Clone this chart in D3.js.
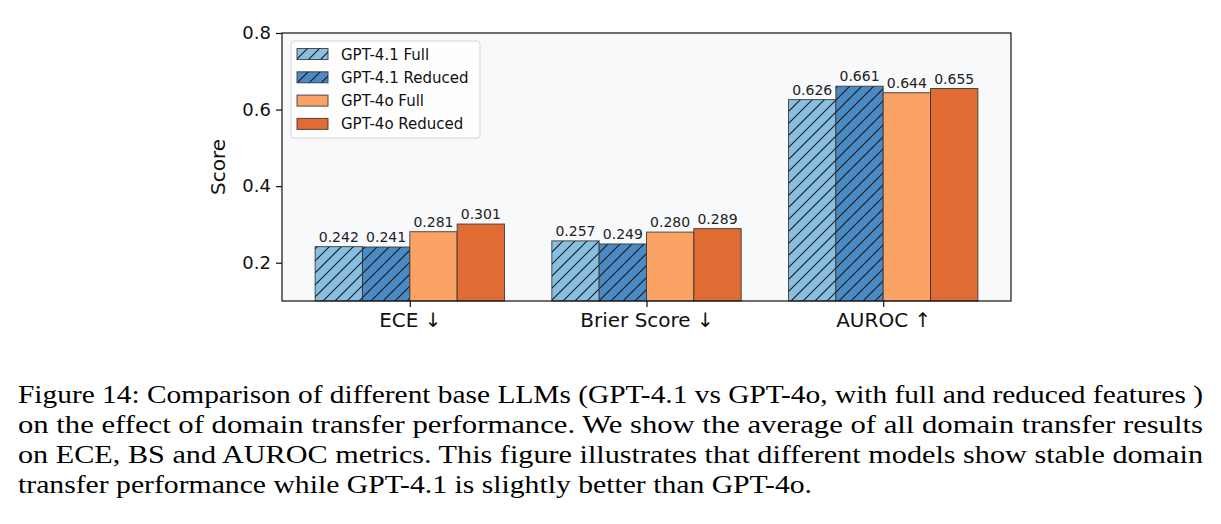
<!DOCTYPE html>
<html>
<head>
<meta charset="utf-8">
<script src="https://cdn.jsdelivr.net/npm/d3@7"></script>
<style>
  body { margin: 0; background: #ffffff; }
  svg { display: block; }
</style>
</head>
<body>
<div id="chartdiv"></div>
<script>
// metric groups on the x axis
var metrics = ["ECE \u2193", "Brier Score \u2193", "AUROC \u2191"];
// one series per model / feature setting
var seriesNames = ["GPT-4.1 Full", "GPT-4.1 Reduced", "GPT-4o Full", "GPT-4o Reduced"];
var gpt41Full = [0.242, 0.257, 0.626];
var gpt41Reduced = [0.241, 0.249, 0.661];
var gpt4oFull = [0.281, 0.280, 0.644];
var gpt4oReduced = [0.301, 0.289, 0.655];
var yTicks = [0.2, 0.4, 0.6, 0.8];

var captionLines = [
  "Figure 14: Comparison of different base LLMs (GPT-4.1 vs GPT-4o, with full and reduced features )",
  "on the effect of domain transfer performance. We show the average of all domain transfer results",
  "on ECE, BS and AUROC metrics. This figure illustrates that different models show stable domain",
  "transfer performance while GPT-4.1 is slightly better than GPT-4o."
];

var allSeries = [gpt41Full, gpt41Reduced, gpt4oFull, gpt4oReduced];
var fillColors = ["#88bfe0", "#4a8ac5", "#fba365", "#e06c33"];
var hatched = [true, true, false, false];

var width = 1221, height = 524;
var plotLeft = 282, plotRight = 1011, plotTop = 33, plotBottom = 301;

var svg = d3.select("#chartdiv").append("svg")
  .attr("width", width)
  .attr("height", height);

// hatch pattern like matplotlib '//'
var defs = svg.append("defs");
fillColors.forEach(function(c, i) {
  if (!hatched[i]) return;
  var pat = defs.append("pattern")
    .attr("id", "hatch" + i)
    .attr("patternUnits", "userSpaceOnUse")
    .attr("width", 12)
    .attr("height", 12);
  pat.append("rect").attr("width", 12).attr("height", 12).attr("fill", c);
  pat.append("path")
    .attr("d", "M-3,3 L3,-3 M0,12 L12,0 M9,15 L15,9")
    .attr("stroke", "#1a1a1a")
    .attr("stroke-width", 1.1);
});

function barFill(i) {
  return hatched[i] ? "url(#hatch" + i + ")" : fillColors[i];
}

// categories sit at 0,1,2 with matplotlib's 5% margin
var x = d3.scaleLinear().domain([-0.54, 2.54]).range([plotLeft, plotRight]);
var y = d3.scaleLinear().domain([0.1, 0.8]).range([plotBottom, plotTop]);
var barW = 0.2;

svg.append("rect")
  .attr("x", plotLeft).attr("y", plotTop)
  .attr("width", plotRight - plotLeft).attr("height", plotBottom - plotTop)
  .attr("fill", "#f8f9fb");

// bars and value labels
for (let s = 0; s < allSeries.length; s++) {
  var g = svg.append("g").attr("class", "series");
  allSeries[s].forEach(function(v, m) {
    var x0 = x(m + (s - 2) * barW);
    var x1 = x(m + (s - 1) * barW);
    g.append("rect")
      .attr("x", x0).attr("y", y(v))
      .attr("width", x1 - x0).attr("height", plotBottom - y(v))
      .attr("fill", barFill(s))
      .attr("stroke", "#333333")
      .attr("stroke-opacity", 0.85)
      .attr("stroke-width", 1);
    g.append("text")
      .attr("x", (x0 + x1) / 2).attr("y", y(v) - 5)
      .attr("text-anchor", "middle")
      .attr("font-family", "DejaVu Sans")
      .attr("font-size", 14)
      .attr("fill", "#222")
      .text(v.toFixed(3));
  });
}

// y axis
var yAxis = d3.axisLeft(y).tickValues(yTicks).tickFormat(d3.format(".1f")).tickSize(6).tickPadding(5);
var yG = svg.append("g").attr("transform", "translate(" + plotLeft + ",0)").call(yAxis);
yG.select(".domain").remove();
yG.selectAll("text").attr("font-family", "DejaVu Sans").attr("font-size", 18).attr("fill", "#111");
yG.selectAll("line").attr("stroke", "#111").attr("stroke-width", 1.2);

// x axis
var xAxis = d3.axisBottom(x).tickValues([0, 1, 2]).tickFormat(function(d) { return metrics[d]; }).tickSize(6).tickPadding(6);
var xG = svg.append("g").attr("transform", "translate(0," + plotBottom + ")").call(xAxis);
xG.select(".domain").remove();
xG.selectAll("text").attr("font-family", "DejaVu Sans").attr("font-size", 20).attr("fill", "#111");
xG.selectAll("line").attr("stroke", "#111").attr("stroke-width", 1.2);

// frame
svg.append("rect")
  .attr("x", plotLeft).attr("y", plotTop)
  .attr("width", plotRight - plotLeft).attr("height", plotBottom - plotTop)
  .attr("fill", "none").attr("stroke", "#111").attr("stroke-width", 1.2);

svg.append("text")
  .attr("transform", "translate(225," + ((plotTop + plotBottom) / 2) + ") rotate(-90)")
  .attr("text-anchor", "middle")
  .attr("font-family", "DejaVu Sans")
  .attr("font-size", 20)
  .attr("fill", "#111")
  .text("Score");

// legend
var legend = svg.append("g").attr("transform", "translate(291,41)");
legend.append("rect")
  .attr("width", 189).attr("height", 97).attr("rx", 3)
  .attr("fill", "#ffffff").attr("fill-opacity", 0.8)
  .attr("stroke", "#d6d6d6");
seriesNames.forEach(function(name, i) {
  var ly = 13 + i * 23.3;
  legend.append("rect")
    .attr("x", 6).attr("y", ly - 5.5)
    .attr("width", 31).attr("height", 11)
    .attr("fill", barFill(i))
    .attr("stroke", "#333333").attr("stroke-opacity", 0.85);
  legend.append("text")
    .attr("x", 50).attr("y", ly + 5.5)
    .attr("font-family", "DejaVu Sans")
    .attr("font-size", 15)
    .attr("fill", "#111")
    .text(name);
});

// caption, justified like the paper (last line ends short)
var capLeft = 18;
var capEnds = [1203, 1203, 1203, 812];
captionLines.forEach(function(line, i) {
  svg.append("text")
    .attr("x", capLeft).attr("y", 403 + i * 30)
    .attr("font-family", "Liberation Serif")
    .attr("font-size", 26)
    .attr("fill", "#000")
    .attr("textLength", capEnds[i] - capLeft)
    .attr("lengthAdjust", "spacingAndGlyphs")
    .text(line);
});
</script>
</body>
</html>
